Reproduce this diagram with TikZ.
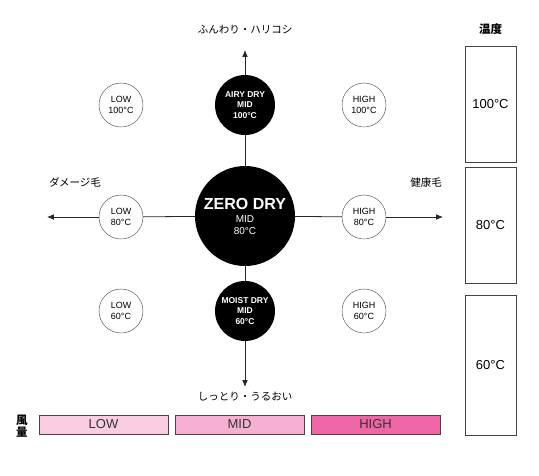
\documentclass[tikz,border=0pt]{standalone}
\usepackage{fontspec}
\setmainfont{Liberation Sans}
\newfontfamily\jpfont{Noto Sans CJK JP}
\usetikzlibrary{arrows.meta}

\definecolor{pinklow}{HTML}{F9CCE2}
\definecolor{pinkmid}{HTML}{F6B0D2}
\definecolor{pinkhigh}{HTML}{EE66A6}
\definecolor{edgegray}{HTML}{444444}

\begin{document}
\begin{tikzpicture}[x=1pt, y=-1pt]

		\tikzstyle{edge} = [thick, draw=black!85, -{Latex[length=2.4mm, width=2mm]}]
		\tikzstyle{plain_edge} = [thick, draw=black!85]
		\tikzstyle{mode} = [circle, draw=edgegray, fill=white, minimum size=44pt, inner sep=0pt, align=center, font=\fontsize{9}{11}\selectfont]
		\tikzstyle{dry} = [circle, fill=black, text=white, minimum size=60pt, inner sep=0pt, align=center, font=\bfseries\fontsize{8.5}{10.5}\selectfont]
		\tikzstyle{temp} = [rectangle, draw=edgegray, thick, minimum width=51pt, font=\fontsize{13}{15}\selectfont]
		\tikzstyle{speed} = [rectangle, draw=edgegray, thick, minimum width=129pt, minimum height=19pt, font=\fontsize{13}{15}\selectfont, text=black!80]
		\tikzstyle{jp} = [font=\jpfont\fontsize{10.5}{12}\selectfont]

		\useasboundingbox (0,0) rectangle (539,475);

		% dryer modes
		\node[circle, fill=black, text=white, minimum size=100pt, inner sep=0pt, align=center]
			(zero) at (245,216) {{\bfseries\fontsize{16}{18}\selectfont ZERO DRY}\\[1pt]
			{\fontsize{10}{13}\selectfont MID}\\{\fontsize{10}{13}\selectfont 80°C}};
		\node[dry](airy) at (245,105){AIRY DRY\\MID\\100°C};
		\node[dry](moist) at (245,311){MOIST DRY\\MID\\60°C};

		\node[mode](low100) at (121,105){LOW\\100°C};
		\node[mode](high100) at (364,105){HIGH\\100°C};
		\node[mode](low80) at (121,217){LOW\\80°C};
		\node[mode](high80) at (364,217){HIGH\\80°C};
		\node[mode](low60) at (121,311){LOW\\60°C};
		\node[mode](high60) at (364,311){HIGH\\60°C};

		\coordinate (up) at (245,50);
		\coordinate (down) at (245,387);
		\coordinate (left) at (47,217);
		\coordinate (right) at (443,217);

		\draw[plain_edge] (zero) -- (airy);
		\draw[plain_edge] (zero) -- (moist);
		\draw[plain_edge] (zero) -- (low80);
		\draw[plain_edge] (zero) -- (high80);
		\draw[edge] (airy) -- (up);
		\draw[edge] (moist) -- (down);
		\draw[edge] (low80) -- (left);
		\draw[edge] (high80) -- (right);

		% axis labels
		\node[jp](soft) at (245,30){ふんわり・ハリコシ};
		\node[jp](moisture) at (245,397){しっとり・うるおい};
		\node[jp](damaged) at (75,182){ダメージ毛};
		\node[jp](healthy) at (426,183){健康毛};

		% temperature
		\node[font=\jpfont\bfseries\fontsize{11.5}{13}\selectfont](templabel) at (490.5,29){温度};
		\node[temp, minimum height=116pt](t100) at (490.5,104){100°C};
		\node[temp, minimum height=116pt](t80) at (490.5,225){80°C};
		\node[temp, minimum height=140pt](t60) at (490.5,365){60°C};

		% air flow
		\node[font=\jpfont\bfseries\fontsize{11.5}{12.5}\selectfont, align=center](flowlabel) at (22,426){風\\量};
		\node[speed, fill=pinklow](slow) at (103.5,424.5){LOW};
		\node[speed, fill=pinkmid](smid) at (239.5,424.5){MID};
		\node[speed, fill=pinkhigh](shigh) at (375.5,424.5){HIGH};

  \end{tikzpicture}
\end{document}
